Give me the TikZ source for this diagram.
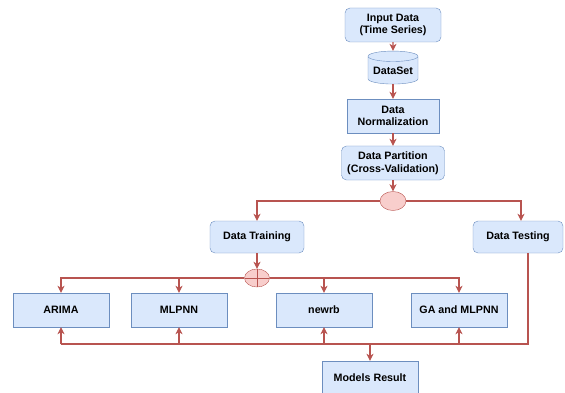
\documentclass[tikz,border=0pt]{standalone}
\usepackage{fontspec}
\setmainfont{Liberation Sans}
\usetikzlibrary{shapes.geometric,arrows.meta}
\definecolor{boxfill}{HTML}{DAE8FC}
\definecolor{boxline}{HTML}{6C8EBF}
\definecolor{arrline}{HTML}{B85450}
\definecolor{juncfill}{HTML}{F8CECC}
\begin{document}
\begin{tikzpicture}[x=1pt,y=-1pt,
        font=\fontsize{10.7}{12.5}\selectfont\bfseries,
        box/.style={draw=boxline,fill=boxfill,minimum width=96pt,minimum height=34pt,align=center,inner sep=1pt},
        rbox/.style={box,rounded corners=5pt},
        junc/.style={draw=arrline,fill=juncfill,ellipse,minimum width=26pt,minimum height=19pt,inner sep=0pt},
        arr/.style={draw=arrline,line width=1.1pt,-{Stealth[length=7pt,width=7pt,inset=2pt]}},
        wire/.style={draw=arrline,line width=1.1pt}]
        \useasboundingbox (0,0) rectangle (565,393);

        \node[rbox] (input) at (393,25) {Input Data\\(Time Series)};
        \node[cylinder,shape border rotate=90,aspect=0.25,draw=boxline,fill=boxfill,minimum width=50pt,minimum height=33pt,inner sep=1pt] (dataset) at (393,71) {DataSet};
        \node[box,minimum width=92pt] (norm) at (393,116) {Data\\Normalization};
        \node[rbox,minimum width=103pt] (part) at (393,163) {Data Partition\\(Cross-Validation)};
        \node[junc] (split) at (393,201) {};
        \node[rbox,minimum width=94pt,minimum height=32pt] (train) at (257,237) {Data Training};
        \node[rbox,minimum width=90pt,minimum height=32pt] (test) at (518,237) {Data Testing};
        \node[junc,minimum width=25pt,minimum height=18pt,
            path picture={\draw[arrline] (path picture bounding box.north) -- (path picture bounding box.south)
                (path picture bounding box.west) -- (path picture bounding box.east);}] (merge) at (257,278) {};

        \node[box] (arima) at (61,310) {ARIMA};
        \node[box] (mlpnn) at (179,310) {MLPNN};
        \node[box] (newrb) at (324,310) {newrb};
        \node[box] (ga) at (459,310) {GA and MLPNN};
        \node[box] (result) at (370,378) {Models Result};
        \coordinate (bus) at (61,344);

        \draw [arr] (input) -- (dataset);
        \draw [arr] (dataset) -- (norm);
        \draw [arr] (norm) -- (part);
        \draw [arr] (part) -- (split);
        \draw [arr] (split) -| (train);
        \draw [arr] (split) -| ([xshift=3pt]test.north);
        \draw [arr] (train) -- (merge);
        \draw [arr] (merge) -| (arima);
        \draw [arr] (merge) -| (mlpnn);
        \draw [arr] (merge) -| (newrb);
        \draw [arr] (merge) -| (ga);

        \draw [wire] ([xshift=10pt]test.south) |- (bus);
        \draw [arr] (bus) -- (arima);
        \draw [arr] (bus -| mlpnn) -- (mlpnn);
        \draw [arr] (bus -| newrb) -- (newrb);
        \draw [arr] (bus -| ga) -- (ga);
        \draw [arr] (bus -| result) -- (result);
    \end{tikzpicture}
\end{document}
